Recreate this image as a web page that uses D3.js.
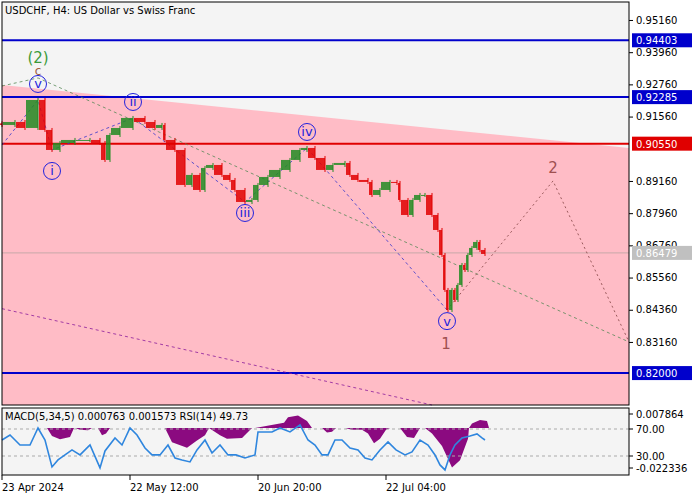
<!DOCTYPE html>
<html><head><meta charset="utf-8">
<script src="https://cdn.jsdelivr.net/npm/d3@7"></script>
<style>body{margin:0;background:#fff}text{font-family:"DejaVu Sans",sans-serif;font-size:10px}</style>
</head><body><svg id="c" width="700" height="500"></svg>
<script>
// price path (bar offset, close)
var barX = [0,13,23,36,43,50,58,73,88,98,103,108,118,131,143,153,160,163,173,183,190,198,203,211,220,228,233,243,250,256,266,278,288,298,305,313,323,331,343,348,356,366,370,378,388,395,398,406,411,418,423,430,436,440,443,446,450,453,456,460,463,466,470,475,478,483];
var closes = [0.91247,0.91358,0.91135,0.92178,0.91061,0.90315,0.90576,0.90688,0.90688,0.90576,0.89943,0.90874,0.91135,0.91508,0.91358,0.91135,0.91247,0.90688,0.90315,0.89011,0.89384,0.88824,0.89645,0.89756,0.89384,0.89197,0.88824,0.88377,0.88452,0.89011,0.89309,0.89570,0.89943,0.90315,0.90390,0.90017,0.89570,0.89756,0.89831,0.89384,0.89197,0.89123,0.88638,0.88824,0.89123,0.89085,0.88452,0.87892,0.88452,0.88638,0.88638,0.87892,0.87333,0.86402,0.85098,0.84352,0.85098,0.84725,0.85284,0.86029,0.85843,0.86402,0.86663,0.86886,0.86588,0.86439];
var lastPrice = 0.86479;
var levels = [{v:0.94403,c:"#0000cc"},{v:0.92285,c:"#0000cc"},{v:0.90550,c:"#e00000"},{v:0.82000,c:"#0000cc"}];
var priceTicks = [0.95160,0.93960,0.92760,0.91560,0.89160,0.87960,0.86760,0.85560,0.84360,0.83160];
var zoneTop = [0.92738,0.90390];
// wave points
var waveX = [0,36,50,131,243,305,445];
var waveP = [0.90500,0.92178,0.90315,0.91508,0.88377,0.90390,0.84352];
var waveLbl = [null,"v","i","ii","iii","iv","v"];
var lblP = [null,0.92775,0.89533,0.92104,0.87967,0.90986,0.83937];
var projX = [445,551,627];
var projP = [0.84352,0.89160,0.83160];
// RSI & MACD
var rsiX = [0,8,18,28,36,43,50,56,63,70,78,88,98,103,113,120,128,135,143,150,158,166,173,180,188,195,203,210,218,226,234,243,253,256,263,270,278,288,298,306,313,320,326,333,340,348,356,363,370,378,386,394,403,410,418,426,433,438,443,448,453,460,468,475,480,483];
var rsi = [53.7,61.1,46.3,46.3,71.5,53.7,13.8,24.2,31.6,39.0,31.6,46.3,12.4,37.5,56.7,46.3,71.5,61.1,41.8,31.6,31.6,46.3,27.1,24.2,21.2,39.0,53.7,34.5,46.3,31.6,31.6,27.1,31.6,65.6,65.6,65.6,71.5,65.6,76.0,53.7,46.3,31.6,31.6,53.7,53.7,41.8,39.0,27.1,24.2,39.0,50.8,39.0,31.6,36.0,53.7,46.3,31.6,16.8,9.4,31.6,46.3,56.7,59.6,62.6,56.7,53.7];
var macdX = [45,50,58,68,72,73,78,86,90,96,100,104,108,163,170,185,195,203,207,218,225,240,250,253,282,286,296,305,310,320,325,330,334,343,350,360,366,372,378,384,388,398,405,412,418,423,430,440,450,458,466,467,470,478,485,487];
var macd = [0,-0.0045,-0.0062,-0.0050,0,0,-0.0010,-0.0012,0,0,-0.0040,-0.0030,0,0,-0.0080,-0.0110,-0.0070,-0.0040,0,-0.0040,-0.0060,-0.0055,0,0,0.0030,0.0060,0.0070,0.0040,0,0,-0.0025,-0.0020,0,0,-0.0010,-0.0010,-0.0030,-0.0085,-0.0060,-0.0010,0,0,-0.0050,-0.0055,0,0,-0.0030,-0.0100,-0.0220,-0.0180,-0.0060,0,0.0025,0.0045,0.0040,0];
var dateLbl = ["23 Apr 2024","22 May 12:00","20 Jun 20:00","22 Jul 04:00"];
var dateX = [0,128,256,384];

var svg = d3.select("#c");
var L = 2, R = 629, T = 2, B = 405, mT = 408, mB = 475;
var x = d3.scaleLinear().domain([0,627]).range([L,R]);
var y = d3.scaleLinear().domain([0.8081,0.9583]).range([B,T]);
var yr = d3.scaleLinear().domain([30,70]).range([456,429]);
var ym = d3.scaleLinear().domain([-0.022336,0.007864]).range([468,414]);

svg.append("rect").attr("x",L).attr("y",T).attr("width",R-L).attr("height",B-T).attr("fill","#f4f4f4");
// pink zone under the descending line
svg.append("path").attr("fill","#ffbcc6")
  .attr("d","M"+L+","+y(zoneTop[0])+"L"+R+","+y(zoneTop[1])+"L"+R+","+B+"L"+L+","+B+"Z");
svg.append("rect").attr("x",L).attr("y",mT).attr("width",R-L).attr("height",mB-mT).attr("fill","#f4f4f4");

// lines
svg.append("line").attr("x1",L).attr("x2",R).attr("y1",y(lastPrice)).attr("y2",y(lastPrice)).attr("stroke","#c8a8a8").attr("stroke-width",1);
levels.forEach(function(l){
  svg.append("line").attr("x1",L).attr("x2",R).attr("y1",y(l.v)).attr("y2",y(l.v)).attr("stroke",l.c).attr("stroke-width",2);
});
var ln = d3.line().x(function(d){return x(d[0])}).y(function(d){return y(d[1])});
svg.append("path").attr("d",ln([[0,0.92700],[36,0.93000],[627,0.83160]])).attr("fill","none").attr("stroke","#558855").attr("stroke-dasharray","3,3").attr("stroke-width",0.8);
svg.append("path").attr("d",ln([[0,0.84400],[430,0.8081]])).attr("fill","none").attr("stroke","#8a1a9a").attr("stroke-dasharray","3,3").attr("stroke-width",0.8);
svg.append("path").attr("d",ln(d3.zip(waveX,waveP))).attr("fill","none").attr("stroke","#3333cc").attr("stroke-dasharray","3,3").attr("stroke-width",0.8);
svg.append("path").attr("d",ln(d3.zip(projX,projP))).attr("fill","none").attr("stroke","#804040").attr("stroke-dasharray","2,3").attr("stroke-width",0.8);

// candles
closes.forEach(function(c,i){
  var o = i ? closes[i-1] : c + 0.0006;
  var hi = Math.max(o,c), lo = Math.min(o,c);
  var col = c >= o ? "#228b22" : "#e00000";
  var cx = x(barX[i]);
  var x0 = i ? x(barX[i-1]) : cx - 3;
  svg.append("line").attr("x1",cx).attr("x2",cx).attr("y1",y(hi)-2).attr("y2",y(lo)+2).attr("stroke",col).attr("stroke-width",1);
  svg.append("rect").attr("x",x0+1).attr("width",Math.max(1,cx-x0-1)).attr("y",y(hi)).attr("height",Math.max(1,y(lo)-y(hi))).attr("fill",col).attr("opacity",0.85);
});

// wave labels
waveLbl.forEach(function(t,i){
  if(!t) return;
  var cx = x(waveX[i]), cy = y(lblP[i]);
  svg.append("circle").attr("cx",cx).attr("cy",cy).attr("r",8.5).attr("fill","none").attr("stroke","#2222dd");
  svg.append("text").attr("x",cx).attr("y",cy+4.5).attr("text-anchor","middle").attr("fill","#2222dd").style("font-size","13px").text(t);
});
svg.append("text").attr("x",x(36)).attr("y",63).attr("text-anchor","middle").attr("fill","#3a9a3a").style("font-size","15px").text("(2)");
svg.append("text").attr("x",x(36)).attr("y",75).attr("text-anchor","middle").attr("fill","#a06040").style("font-size","12px").text("c");
svg.append("text").attr("x",x(444)).attr("y",349).attr("text-anchor","middle").attr("fill","#a05050").style("font-size","15px").text("1");
svg.append("text").attr("x",x(551)).attr("y",173).attr("text-anchor","middle").attr("fill","#a05050").style("font-size","15px").text("2");

// indicator panel
svg.append("path").attr("fill","#8b0a80")
  .attr("d",d3.area().x(function(d){return x(d[0])}).y0(ym(0)).y1(function(d){return ym(d[1])})(d3.zip(macdX,macd)));
[70,30].forEach(function(v){
  svg.append("line").attr("x1",L).attr("x2",R).attr("y1",yr(v)).attr("y2",yr(v)).attr("stroke","#aaa").attr("stroke-dasharray","3,3");
});
svg.append("path").attr("fill","none").attr("stroke","#2f86de").attr("stroke-width",1.6)
  .attr("d",d3.line().x(function(d){return x(d[0])}).y(function(d){return yr(d[1])})(d3.zip(rsiX,rsi)));
svg.append("text").attr("x",5).attr("y",420).attr("fill","#000").text("MACD(5,34,5) 0.000763 0.001573 RSI(14) 49.73");

// frames
svg.append("rect").attr("x",L).attr("y",T).attr("width",R-L).attr("height",B-T).attr("fill","none").attr("stroke","#000");
svg.append("rect").attr("x",L).attr("y",mT).attr("width",R-L).attr("height",mB-mT).attr("fill","none").attr("stroke","#000");
svg.append("text").attr("x",5).attr("y",14).attr("fill","#000").text("USDCHF, H4:  US Dollar vs Swiss Franc");

// right axis
var ax = svg.append("g").attr("transform","translate("+R+",0)")
  .call(d3.axisRight(y).tickValues(priceTicks).tickFormat(d3.format(".5f")).tickSize(4));
ax.select(".domain").remove();
ax.selectAll("text").attr("fill","#000").style("font-size","10px");
levels.concat([{v:lastPrice,c:"#c0c0c0"}]).forEach(function(l){
  svg.append("rect").attr("x",632).attr("y",y(l.v)-7).attr("width",60).attr("height",14).attr("fill",l.c);
  svg.append("text").attr("x",636).attr("y",y(l.v)+4).attr("fill","#fff").text(d3.format(".5f")(l.v));
});
[[0.007864,ym(0.007864)],[70,yr(70)],[30,yr(30)],[-0.022336,ym(-0.022336)]].forEach(function(d){
  svg.append("line").attr("x1",R).attr("x2",R+4).attr("y1",d[1]).attr("y2",d[1]).attr("stroke","#000");
  svg.append("text").attr("x",636).attr("y",d[1]+4).text(Math.abs(d[0])<1 ? d[0] : d3.format(".2f")(d[0]));
});
// time axis
dateLbl.forEach(function(t,i){
  var tx = x(dateX[i]);
  svg.append("line").attr("x1",tx).attr("x2",tx).attr("y1",mB).attr("y2",mB+5).attr("stroke","#000");
  svg.append("text").attr("x",tx).attr("y",491).text(t);
});
</script></body></html>
